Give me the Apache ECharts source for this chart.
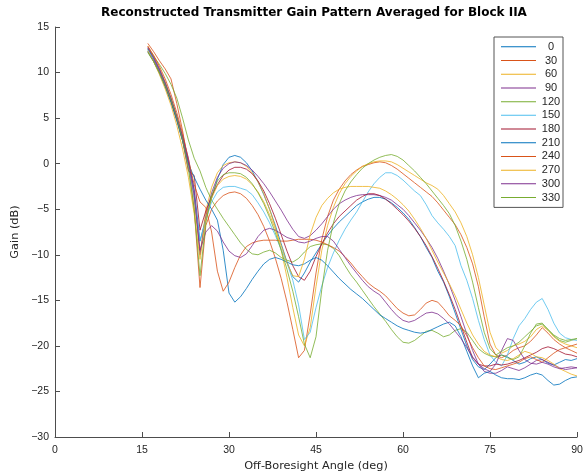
<!DOCTYPE html>
<html>
<head>
<meta charset="utf-8">
<script src="https://cdn.jsdelivr.net/npm/echarts@6/dist/echarts.min.js"></script>
<style>
html,body{margin:0;padding:0;background:#fff;}
#chart{width:585px;height:475px;}
</style>
</head>
<body>
<div id="chart"></div>
<script>
const angles = [16,17,18,19,20,21,22,23,24,25,26,27,28,29,30,31,32,33,34,35,36,37,38,39,40,41,42,43,44,45,46,47,48,49,50,51,52,53,54,55,56,57,58,59,60,61,62,63,64,65,66,67,68,69,70,71,72,73,74,75,76,77,78,79,80,81,82,83,84,85,86,87,88,89,90];

const seriesNames = ['0','30','60','90','120','150','180','210','240','270','300','330'];

const s0 = [12.6,11.5,10.2,8.7,7.0, 5.0,2.8,0.3,-2.8,-8.5, -6.0,-3.8,-1.7,-0.1,0.7, 0.9,0.7,0.1,-0.8,-2.0, -3.4,-5.0,-6.8,-8.8,-10.8, -12.4,-13.0,-12.0,-10.8,-9.8, -8.8,-7.9,-7.1,-6.4,-5.8, -5.2,-4.6,-4.2,-3.9,-3.7, -3.7,-3.9,-4.3,-4.8,-5.4, -6.1,-7.0,-8.0,-9.2,-10.3, -11.8,-13.0,-14.6,-16.4,-18.2, -20.0,-21.5,-22.3,-22.6,-22.0, -21.3,-21.0,-21.2,-21.6,-22.0, -21.8,-21.4,-21.2,-21.5,-21.9, -22.1,-21.8,-21.5,-21.6,-21.4];
const s30 = [13.2,12.3,11.3,10.4,9.3, 6.6,3.6,0.0,-5.0,-13.6, -6.8,-5.0,-4.1,-3.5,-3.2, -3.1,-3.3,-3.8,-4.6,-5.6, -6.9,-8.5,-10.4,-12.6,-15.2, -18.2,-21.3,-20.5,-16.5,-12.0, -8.3,-5.8,-4.0,-2.8,-1.9, -1.2,-0.7,-0.3,-0.1,0.1, 0.2,0.1,-0.2,-0.6,-1.1, -1.6,-2.1,-2.6,-3.1,-3.6, -4.3,-5.1,-5.9,-6.7,-7.8, -9.2,-11.0,-13.5,-16.8,-19.8, -21.0,-21.3,-21.0,-20.5,-20.2, -20.0,-19.5,-18.8,-18.0,-18.6, -19.3,-19.8,-20.2,-20.5,-20.8];
const s60 = [12.9,11.8,10.5,9.0,7.2, 5.2,2.8,-0.2,-4.0,-10.0, -5.2,-2.6,-1.0,-0.2,0.1, 0.2,0.1,-0.3,-1.0,-2.0, -3.3,-5.0,-7.0,-9.5,-12.5, -15.8,-18.8,-20.0,-18.0,-13.5, -9.5,-6.8,-4.8,-3.3,-2.2, -1.4,-0.8,-0.3,0.0,0.2, 0.3,0.3,0.2,-0.1,-0.5, -0.9,-1.3,-1.7,-2.1,-2.4, -2.8,-3.5,-4.4,-5.3,-6.5, -8.0,-10.0,-12.5,-15.5,-18.5, -20.2,-20.8,-20.5,-20.0,-19.8, -19.5,-19.0,-18.2,-17.8,-18.3, -19.0,-19.5,-19.8,-20.0,-20.2];
const s90 = [12.8,11.7,10.4,8.9,7.2, 5.2,3.0,0.6,-3.0,-10.0, -5.8,-3.2,-1.5,-0.5,0.0, 0.2,0.1,-0.2,-0.7,-1.4, -2.2,-3.1,-4.1,-5.1,-6.2, -7.2,-8.0,-8.2,-7.9,-7.3, -6.6,-5.8,-5.0,-4.4,-4.0, -3.7,-3.5,-3.4,-3.4,-3.4, -3.5,-3.7,-4.0,-4.5,-5.0, -5.7,-6.5,-7.3,-8.2,-9.2, -10.4,-11.8,-13.3,-15.0,-16.8, -18.7,-20.5,-22.0,-22.8,-23.0, -23.0,-22.7,-22.3,-22.5,-22.7, -22.4,-22.0,-21.6,-21.5,-21.8, -22.1,-22.4,-22.6,-22.5,-22.4];
const s120 = [12.6,11.8,10.9,9.9,8.7, 7.2,5.0,2.6,0.6,-0.8, -2.6,-4.0,-5.0,-6.0,-6.9, -7.8,-8.7,-9.4,-9.9,-10.0, -9.7,-9.5,-9.8,-10.3,-10.6, -10.8,-10.4,-9.7,-9.1,-8.9, -8.8,-8.9,-9.3,-10.1,-11.2, -12.2,-13.0,-13.9,-14.8,-15.7, -16.5,-17.3,-18.2,-19.0,-19.6, -19.7,-19.4,-18.9,-18.4,-18.3, -18.6,-19.0,-18.8,-18.3,-18.1, -18.5,-19.4,-20.3,-20.8,-21.1, -21.2,-21.0,-21.3,-21.5,-21.2, -20.0,-18.6,-17.6,-17.5,-18.2, -18.9,-19.4,-19.6,-19.4,-19.2];
const s150 = [12.5,11.4,10.1,8.6,6.9, 4.9,2.6,-0.2,-3.8,-8.5, -6.2,-4.2,-3.1,-2.6,-2.5, -2.5,-2.7,-2.9,-3.4,-4.3, -5.3,-6.5,-7.9,-9.4,-10.9, -12.8,-15.5,-19.3,-18.5,-15.8, -13.4,-11.4,-9.8,-8.4,-7.2, -6.2,-5.3,-4.2,-3.1,-2.2, -1.5,-1.0,-1.0,-1.3,-1.8, -2.4,-3.0,-3.5,-4.5,-5.7, -6.5,-7.2,-8.0,-9.0,-11.2, -12.8,-14.8,-17.2,-19.3,-21.0, -21.8,-22.2,-21.0,-19.2,-17.8, -17.0,-16.0,-15.2,-14.8,-16.0, -17.5,-18.6,-19.1,-19.3,-19.4];
const s180 = [12.3,11.3,10.0,8.5,6.8, 4.8,2.5,-0.8,-1.3,-7.3, -5.2,-3.6,-2.3,-1.3,-0.7, -0.4,-0.4,-0.6,-1.1,-1.9, -3.0,-4.4,-6.0,-7.8,-9.6, -11.2,-12.4,-12.8,-11.8,-10.2, -8.8,-7.6,-6.6,-5.8,-5.2, -4.6,-4.0,-3.6,-3.3,-3.3, -3.5,-3.9,-4.4,-5.0,-5.6, -6.3,-7.1,-8.0,-9.0,-10.2, -11.5,-12.9,-14.4,-16.0,-17.8, -19.6,-21.3,-22.0,-22.2,-22.2, -22.0,-22.1,-22.0,-21.8,-21.6, -21.3,-21.0,-20.7,-20.3,-20.1, -20.3,-20.6,-20.9,-21.0,-21.2];
const s210 = [12.3,11.2,9.9,8.4,6.7, 4.7,2.5,0.0,-1.5,-2.8, -4.0,-5.0,-6.2,-9.5,-14.2, -15.2,-14.6,-13.7,-12.7,-11.8, -11.0,-10.5,-10.3,-10.5,-10.8, -11.1,-11.2,-11.0,-10.6,-10.3, -10.6,-11.2,-11.9,-12.6,-13.2, -13.8,-14.3,-14.8,-15.4,-16.0, -16.6,-17.0,-17.4,-17.8,-18.1, -18.3,-18.5,-18.6,-18.5,-18.2, -17.9,-17.6,-17.4,-17.8,-19.0, -20.6,-22.2,-23.5,-23.0,-22.8, -23.2,-23.5,-23.6,-23.6,-23.7, -23.5,-23.2,-23.0,-23.2,-23.8, -24.3,-24.2,-23.8,-23.5,-23.4];
const s240 = [12.9,11.9,10.7,9.3,7.6, 5.6,3.3,0.5,-2.3,-4.2, -4.8,-7.5,-11.8,-14.0,-13.0, -11.4,-10.0,-9.1,-8.7,-8.5, -8.4,-8.4,-8.4,-8.5,-8.5, -8.4,-8.3,-8.3,-8.3,-8.4, -8.6,-8.9,-9.2,-9.6,-10.2, -10.9,-11.7,-12.4,-13.1,-13.6, -14.0,-14.5,-15.2,-15.9,-16.4, -16.7,-16.6,-16.0,-15.3,-15.0, -15.2,-15.9,-16.7,-17.2,-17.8, -18.9,-20.2,-21.3,-22.2,-22.5, -22.6,-22.4,-22.2,-22.0,-21.8, -21.4,-21.2,-21.5,-21.8,-21.3, -20.8,-20.4,-20.2,-20.0,-19.8];
const s270 = [12.4,11.2,9.8,8.2,6.4, 4.2,1.6,-1.5,-5.5,-10.5, -6.0,-3.8,-2.4,-1.7,-1.4, -1.3,-1.4,-1.7,-2.3,-3.1, -4.2,-5.6,-7.2,-9.0,-10.9, -12.3,-12.4,-10.5,-7.8,-5.9, -4.6,-3.8,-3.2,-2.8,-2.6, -2.5,-2.5,-2.5,-2.5,-2.6, -2.7,-3.0,-3.4,-3.9,-4.5, -5.2,-6.1,-7.1,-8.2,-9.5, -10.8,-12.0,-13.2,-14.5,-16.0, -17.5,-18.8,-19.8,-20.6,-21.0, -21.2,-21.5,-21.6,-21.4,-21.0, -20.6,-20.8,-21.2,-21.3,-21.6, -22.0,-22.5,-22.8,-23.1,-23.3];
const s300 = [12.7,11.6,10.3,8.8,7.1, 5.1,2.9,0.2,-3.5,-9.5, -7.5,-6.8,-7.4,-8.6,-9.6, -10.1,-10.3,-9.9,-9.0,-8.0, -7.3,-7.1,-7.3,-7.7,-8.1, -8.3,-8.6,-8.7,-8.5,-8.2, -8.0,-8.0,-8.5,-9.4,-10.3, -11.2,-12.0,-12.8,-13.5,-14.0, -14.4,-15.2,-16.0,-16.7,-17.2, -17.4,-17.2,-16.8,-16.4,-16.3, -16.5,-17.0,-17.6,-18.4,-19.2, -20.2,-21.2,-22.0,-22.5,-22.8, -22.0,-20.5,-19.2,-19.4,-20.5, -21.5,-21.9,-22.0,-21.8,-22.0, -22.3,-22.5,-22.4,-22.3,-22.4];
const s330 = [12.2,11.2,10.0,8.6,7.0, 5.0,2.6,-0.6,-5.0,-12.3, -6.5,-3.5,-1.9,-1.2,-1.0, -1.0,-1.1,-1.5,-2.2,-3.2, -4.4,-5.9,-7.6,-9.5,-11.6, -14.0,-16.8,-19.8,-21.3,-19.0, -13.8,-9.5,-6.5,-4.4,-3.0, -2.0,-1.2,-0.5,0.0,0.4, 0.7,0.9,1.0,0.8,0.4, -0.2,-0.8,-1.5,-2.2,-3.0, -3.8,-4.6,-5.5,-6.8,-8.5, -10.5,-13.0,-15.8,-18.5,-20.3, -21.0,-20.6,-20.2,-20.0,-19.6, -19.0,-18.4,-17.8,-17.6,-18.2, -18.8,-19.2,-19.4,-19.3,-19.2];

const xTicks = [0,15,30,45,60,75,90];
const yTicks = [-30,-25,-20,-15,-10,-5,0,5,10,15];

const allSeries = [s0,s30,s60,s90,s120,s150,s180,s210,s240,s270,s300,s330];
const colors = ['#0072BD','#D95319','#EDB120','#7E2F8E','#77AC30','#4DBEEE','#A2142F','#0072BD','#D95319','#EDB120','#7E2F8E','#77AC30'];

const minus = v => String(v).replace('-', '\u2212');
const axisCol = '#4d4d4d';
const txtCol = '#262626';

const chart = echarts.init(document.getElementById('chart'), null, {renderer:'canvas'});
chart.setOption({
  animation: false,
  backgroundColor: '#fff',
  color: colors,
  title: {
    text: 'Reconstructed Transmitter Gain Pattern Averaged for Block IIA',
    left: 309, top: 2, textAlign: 'center',
    textStyle: {fontFamily: 'DejaVu Sans', fontWeight: 'bold', fontSize: 12, color: '#000'}
  },
  grid: {left: 55, right: 8, top: 27, bottom: 38, containLabel: false, outerBoundsMode: 'none'},
  legend: {
    orient: 'vertical', left: 494, top: 37,
    data: seriesNames,
    icon: 'rect',
    backgroundColor: '#fff', borderColor: '#555', borderWidth: 1,
    padding: [3, 2, 3, 7],
    itemWidth: 35, itemHeight: 1, itemGap: 0,
    formatter: n => '{c|' + n + '}',
    textStyle: {
      fontFamily: 'Liberation Sans', fontSize: 11, color: txtCol, lineHeight: 13.7,
      rich: {c: {width: 20, align: 'center', fontFamily: 'Liberation Sans', fontSize: 11, color: txtCol, lineHeight: 13.7}}
    }
  },
  xAxis: {
    type: 'value', min: 0, max: 90, interval: 15,
    name: 'Off-Boresight Angle (deg)', nameLocation: 'middle', nameGap: 23,
    nameTextStyle: {fontFamily: 'DejaVu Sans', fontSize: 11.3, color: txtCol},
    axisLine: {show: true, onZero: false, lineStyle: {color: axisCol, width: 1}},
    axisTick: {show: true, inside: true, length: 5, lineStyle: {color: axisCol}},
    axisLabel: {fontFamily: 'Liberation Sans', fontSize: 10.5, color: txtCol, margin: 8, formatter: v => xTicks.includes(v) ? minus(v) : ''},
    splitLine: {show: false}
  },
  yAxis: {
    type: 'value', min: -30, max: 15, interval: 5,
    name: 'Gain (dB)', nameLocation: 'middle', nameGap: 25, nameRotate: 90,
    nameTextStyle: {fontFamily: 'DejaVu Sans', fontSize: 11.3, color: txtCol},
    axisLine: {show: true, onZero: false, lineStyle: {color: axisCol, width: 1}},
    axisTick: {show: true, inside: true, length: 5, lineStyle: {color: axisCol}},
    axisLabel: {fontFamily: 'Liberation Sans', fontSize: 10.5, color: txtCol, margin: 6, formatter: v => yTicks.includes(v) ? minus(v) : ''},
    splitLine: {show: false}
  },
  series: allSeries.map((s, k) => ({
    name: seriesNames[k],
    type: 'line',
    symbol: 'none',
    lineStyle: {width: 1, color: colors[k], opacity: 0.8},
    itemStyle: {color: colors[k]},
    data: angles.map((a, i) => [a, s[i]])
  }))
});
</script>
</body>
</html>
